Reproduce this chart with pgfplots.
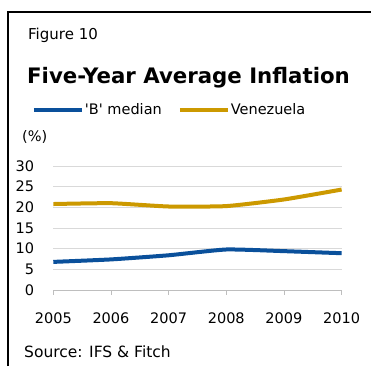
\documentclass[border=0pt]{standalone}
\usepackage{pgfplots}
\pgfplotsset{compat=1.18}
\usepackage{fontspec}
\setmainfont{DejaVu Sans}[Ligatures=TeXOff]
\definecolor{bblue}{RGB}{10,80,155}
\definecolor{vgold}{RGB}{204,153,0}
\definecolor{gridgray}{RGB}{217,217,217}
\definecolor{axgray}{RGB}{190,190,190}
\begin{document}
\begin{tikzpicture}[x=1pt,y=1pt]
\useasboundingbox (0,0) rectangle (371,366);
\draw[line width=2pt] (7.5,0) -- (7.5,354) -- (371,354);
\node[anchor=base west, inner sep=0pt, font=\fontsize{15}{17}\selectfont] at (28,326.7) {Figure 10};
\node[anchor=base west, inner sep=0pt, font=\fontsize{21.3}{25}\selectfont\bfseries] at (27,282.7) {Five-Year Average Inflation};
\node[anchor=base west, inner sep=0pt, font=\fontsize{14.5}{17}\selectfont] at (22,224) {(\%)};
\node[anchor=base west, inner sep=0pt, font=\fontsize{15.5}{18}\selectfont] at (24,8.7) {Source: IFS \& Fitch};
\begin{axis}[
  at={(53.3pt,76pt)}, anchor=south west,
  scale only axis, width=288.3pt, height=124pt,
  xmin=2005, xmax=2010, ymin=0, ymax=30,
  xtick={2005,2006,2007,2008,2009,2010},
  ytick={0,5,10,15,20,25,30},
  /pgf/number format/assume math mode=true,
  /pgf/number format/1000 sep={},
  ymajorgrids, grid style={gridgray, line width=0.8pt},
  axis x line*=bottom, axis y line*=left,
  x axis line style={-, axgray, line width=0.8pt},
  y axis line style={draw=none},
  xtick style={axgray, line width=0.8pt},
  ytick style={draw=none},
  tick align=outside, major tick length=5pt,
  x tick label style={font=\fontsize{14.5}{17}\selectfont, anchor=base, inner sep=0pt, yshift=-29pt},
  y tick label style={font=\fontsize{14.5}{17}\selectfont, anchor=east, inner sep=0pt, xshift=-14pt},
  clip=false,
  legend columns=2,
  legend cell align=left,
  legend style={at={(axis description cs:-0.074,1.452)}, anchor=west, draw=none, fill=none, inner sep=0pt, outer sep=0pt,
    font=\fontsize{14.5}{17}\selectfont,
    nodes={inner sep=1pt},
    /tikz/every even column/.append style={column sep=15pt}},
  legend image code/.code={\draw[#1] (0pt,0pt) -- (48pt,0pt);},
]
\addplot[bblue, line width=4pt, smooth, tension=0.3] coordinates {(2005,6.8)(2006,7.4)(2007,8.4)(2008,9.8)(2009,9.4)(2010,8.9)};
\addlegendentry{'B' median}
\addplot[vgold, line width=4pt, smooth, tension=0.3] coordinates {(2005,20.8)(2006,21.0)(2007,20.2)(2008,20.3)(2009,21.9)(2010,24.3)};
\addlegendentry{Venezuela}
\end{axis}
\end{tikzpicture}
\end{document}
